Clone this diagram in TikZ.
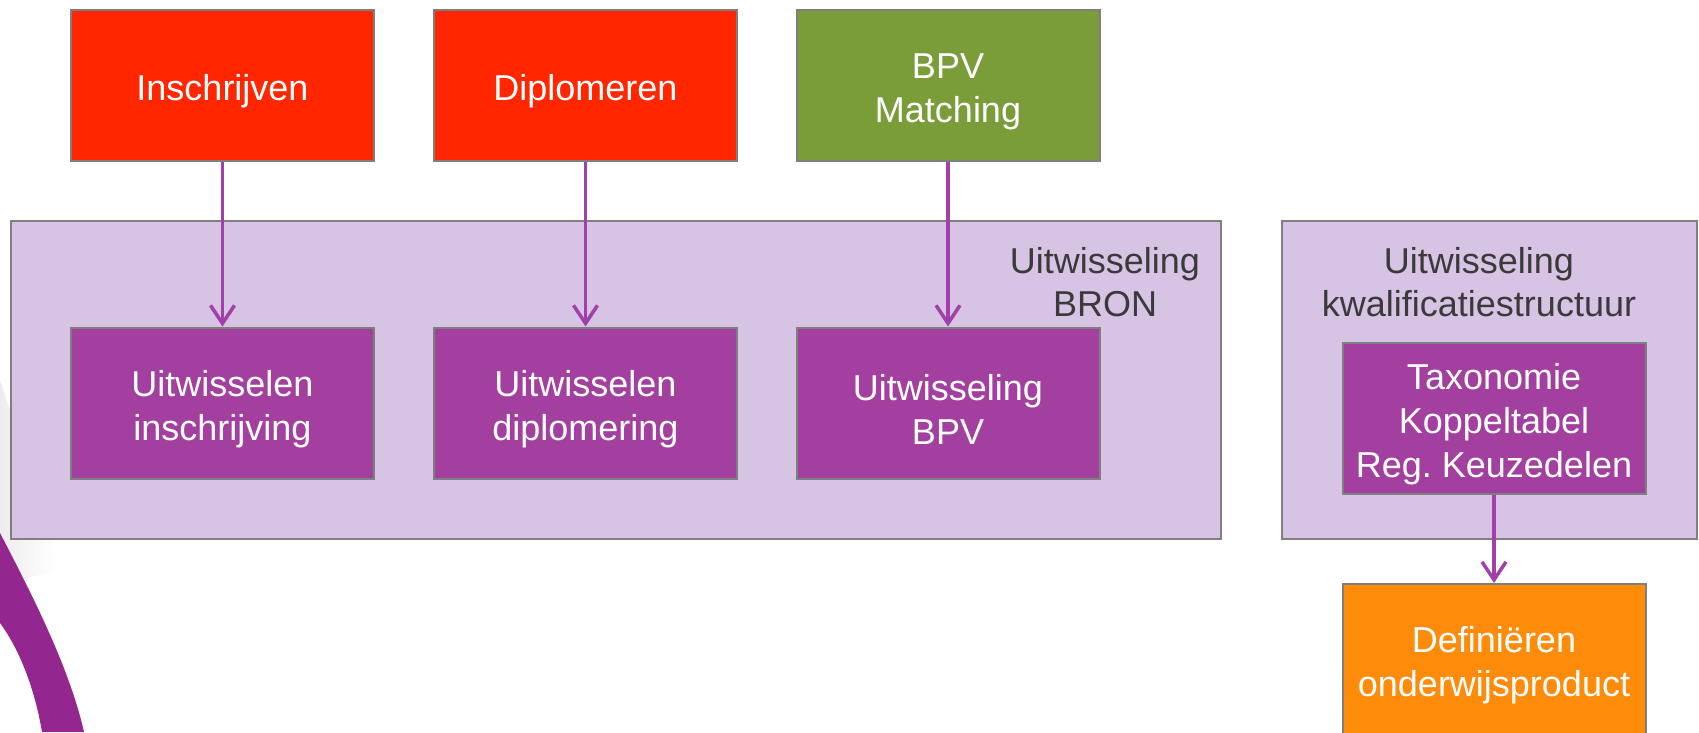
\documentclass[tikz,border=0pt]{standalone}
\usepackage{fontspec}
\setmainfont{Liberation Sans}
\usetikzlibrary{arrows.meta}
\definecolor{red_box}{HTML}{FF2600}
\definecolor{green_box}{HTML}{7A9D3A}
\definecolor{purple_box}{HTML}{A33F9F}
\definecolor{orange_box}{HTML}{FF8B0B}
\definecolor{group_purple}{HTML}{D7C3E4}
\definecolor{border_gray}{HTML}{7F7F7F}
\definecolor{title_gray}{HTML}{3A3A3A}
\definecolor{flow_purple}{HTML}{A040A8}
\definecolor{swoosh_purple}{HTML}{93268F}
\newcommand{\boxstrut}{\rule{0pt}{38pt}}

\begin{document}
\begin{tikzpicture}[x=1pt,y=-1pt,
        taskbox/.style={draw=border_gray, line width=2pt, minimum width=303pt, minimum height=151pt,
            inner sep=0pt, text=white, align=center, font=\fontsize{36}{44}\selectfont},
        groupbox/.style={draw=border_gray, line width=2pt, fill=group_purple, inner sep=0pt},
        grouptitle/.style={text=title_gray, align=center, font=\fontsize{36}{43}\selectfont},
        flow/.style={draw=flow_purple, line width=3.5pt, -{Straight Barb[length=18pt,width=24pt]}}]
        \useasboundingbox (0,0) rectangle (1699,732);
        \clip (0,0) rectangle (1699,732);
        % Swoosh links onder
        \shade[left color=black!7, right color=white] (0,380) .. controls (20,440) and (40,500) .. (58,570)
            -- (20,580) -- (0,533) -- cycle;
        \fill[swoosh_purple] (0,533) .. controls (35,600) and (70,670) .. (84,732)
            -- (42,732) .. controls (35,690) and (20,650) .. (0,623) -- cycle;
        % Groepen
        \node[groupbox, minimum width=1210pt, minimum height=318pt] (bron) at (616,380) {};
        \node[groupbox, minimum width=415pt, minimum height=318pt] (kwal) at (1489.5,380) {};
        \node[grouptitle] (bron_title) at (1105,282) {Uitwisseling\\BRON};
        \node[grouptitle] (kwal_title) at (1479,282) {Uitwisseling\\kwalificatiestructuur};
        % Processen boven
        \node[taskbox, fill=red_box] (inschrijven) at (222.5,85.5) {\boxstrut Inschrijven};
        \node[taskbox, fill=red_box] (diplomeren) at (585.5,85.5) {\boxstrut Diplomeren};
        \node[taskbox, fill=green_box] (bpv_matching) at (948,85.5) {\boxstrut BPV\\Matching};
        % Uitwisselingen
        \node[taskbox, fill=purple_box] (uitw_inschr) at (222.5,403) {\boxstrut Uitwisselen\\inschrijving};
        \node[taskbox, fill=purple_box] (uitw_dipl) at (585.5,403) {\boxstrut Uitwisselen\\diplomering};
        \node[taskbox, fill=purple_box] (uitw_bpv) at (948,403) {\boxstrut Uitwisseling\\BPV};
        \node[taskbox, fill=purple_box] (taxonomie) at (1494,418) {\boxstrut Taxonomie\\Koppeltabel\\Reg.\ Keuzedelen};
        % Onderwijsproduct
        \node[taskbox, fill=orange_box] (onderwijsproduct) at (1494,659.5) {\boxstrut Definiëren\\onderwijsproduct};
        % Pijlen
        \draw[flow] (inschrijven) -- (uitw_inschr);
        \draw[flow] (diplomeren) -- (uitw_dipl);
        \draw[flow] (bpv_matching) -- (uitw_bpv);
        \draw[flow] (taxonomie) -- (onderwijsproduct);
    \end{tikzpicture}
\end{document}
